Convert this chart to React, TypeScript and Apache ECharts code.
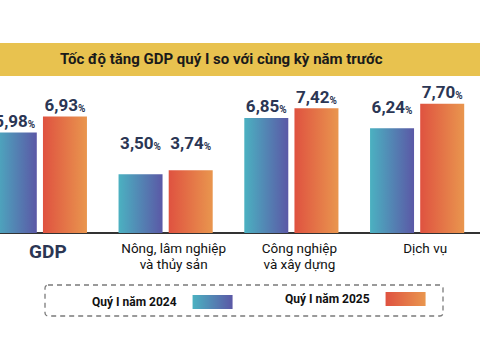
import React, { useEffect, useRef } from 'react';
import * as echarts from 'echarts';

const categories = ['GDP', 'Nông, lâm nghiệp\nvà thủy sản', 'Công nghiệp\nvà xây dựng', 'Dịch vụ'];
const values2024 = [5.98, 3.5, 6.85, 6.24];
const values2025 = [6.93, 3.74, 7.42, 7.7];
const seriesNames = ['Quý I năm 2024', 'Quý I năm 2025'];
const titleText = 'Tốc độ tăng GDP quý I so với cùng kỳ năm trước';

// extra vertical lift (px) of value labels, purely stylistic
const labelLift2024 = [0, 20, 0, 10];
const labelLift2025 = [0, 16, 0, 0];

const NAVY = '#2b3654';
// the chart canvas starts 23px left of the window (first bar is cut off)
const SHIFT = 23;

export default function App() {
  const ref = useRef<HTMLDivElement>(null);
  useEffect(() => {
    if (!ref.current) return;
    const chart = echarts.init(ref.current, undefined, { renderer: 'svg' });
    const grad2024 = new echarts.graphic.LinearGradient(0, 0, 1, 0, [
      { offset: 0, color: '#4BB1C1' },
      { offset: 1, color: '#5B58A6' },
    ]);
    const grad2025 = new echarts.graphic.LinearGradient(0, 0, 1, 0, [
      { offset: 0, color: '#DF5240' },
      { offset: 1, color: '#E9964E' },
    ]);
    const valueFont = 'Roboto, "Liberation Sans", sans-serif';
    const valueLabel = {
      show: true,
      position: 'top',
      distance: 3,
      formatter: (p: any) => `{v|${Number(p.value).toFixed(2).replace('.', ',')}}{p|%}`,
      rich: {
        v: {
          fontFamily: valueFont,
          fontWeight: 'bold',
          fontSize: 17,
          color: NAVY,
          verticalAlign: 'bottom',
          lineHeight: 18,
        },
        p: {
          fontFamily: valueFont,
          fontWeight: 'bold',
          fontSize: 10,
          color: NAVY,
          verticalAlign: 'bottom',
          lineHeight: 16,
        },
      },
    };
    const legendText = {
      fontFamily: 'Roboto, sans-serif',
      fontWeight: 'bold',
      fontSize: 12,
      color: '#111',
      padding: [0, 11, 0, 0],
    };
    chart.setOption({
      animation: false,
      backgroundColor: '#ffffff',
      title: {
        text: titleText,
        left: 60 + SHIFT,
        top: 51,
        padding: 0,
        textStyle: {
          fontFamily: 'Roboto, sans-serif',
          fontWeight: 'bold',
          fontSize: 15,
          color: '#1a1a1a',
        },
      },
      graphic: [
        {
          type: 'rect',
          z: 0,
          shape: { x: 0, y: 43, width: 480 + SHIFT, height: 33 },
          style: { fill: '#E8C24F' },
        },
        {
          type: 'rect',
          z: 0,
          shape: { x: 45 + SHIFT, y: 285, width: 398, height: 31, r: 3 },
          style: { fill: 'none', stroke: '#7a7a7a', lineWidth: 1.3, lineDash: [5, 4] },
        },
      ],
      legend: [
        {
          data: [seriesNames[0]],
          left: 92 + SHIFT,
          top: 295,
          padding: 0,
          itemWidth: 40,
          itemHeight: 14,
          align: 'right',
          icon: 'rect',
          selectedMode: false,
          textStyle: legendText,
        },
        {
          data: [seriesNames[1]],
          left: 285 + SHIFT,
          top: 292,
          padding: 0,
          itemWidth: 40,
          itemHeight: 14,
          align: 'right',
          icon: 'rect',
          selectedMode: false,
          textStyle: legendText,
        },
      ],
      grid: { left: 0, right: 0, top: 65, bottom: 127, containLabel: false },
      xAxis: {
        type: 'category',
        data: categories,
        axisLine: { lineStyle: { color: '#333', width: 2 } },
        axisTick: { show: false },
        axisLabel: {
          interval: 0,
          margin: 7,
          padding: [0, 0, 0, 16],
          formatter: (v: string) => (v === 'GDP' ? `{g|${v}}` : `{n|${v}}`),
          rich: {
            g: {
              fontFamily: 'Roboto, "Liberation Sans", sans-serif',
              fontWeight: 'bold',
              fontSize: 19,
              color: NAVY,
              lineHeight: 22,
            },
            n: {
              fontFamily: 'Roboto, "Liberation Sans", sans-serif',
              fontSize: 13.5,
              color: '#111',
              lineHeight: 16,
            },
          },
        },
      },
      yAxis: { type: 'value', min: 0, max: 10, show: false, splitLine: { show: false } },
      series: [
        {
          name: seriesNames[0],
          type: 'bar',
          barWidth: 44,
          barGap: '14%',
          itemStyle: { color: grad2024 },
          label: valueLabel,
          data: values2024.map((v, i) => ({ value: v, label: { offset: [0, -labelLift2024[i]] } })),
        },
        {
          name: seriesNames[1],
          type: 'bar',
          barWidth: 44,
          itemStyle: { color: grad2025 },
          label: valueLabel,
          data: values2025.map((v, i) => ({ value: v, label: { offset: [0, -labelLift2025[i]] } })),
        },
      ],
    });
    return () => chart.dispose();
  }, []);
  return (
    <div
      ref={ref}
      style={{ position: 'fixed', left: -SHIFT, top: 0, width: 480 + SHIFT, height: 360 }}
    />
  );
}
